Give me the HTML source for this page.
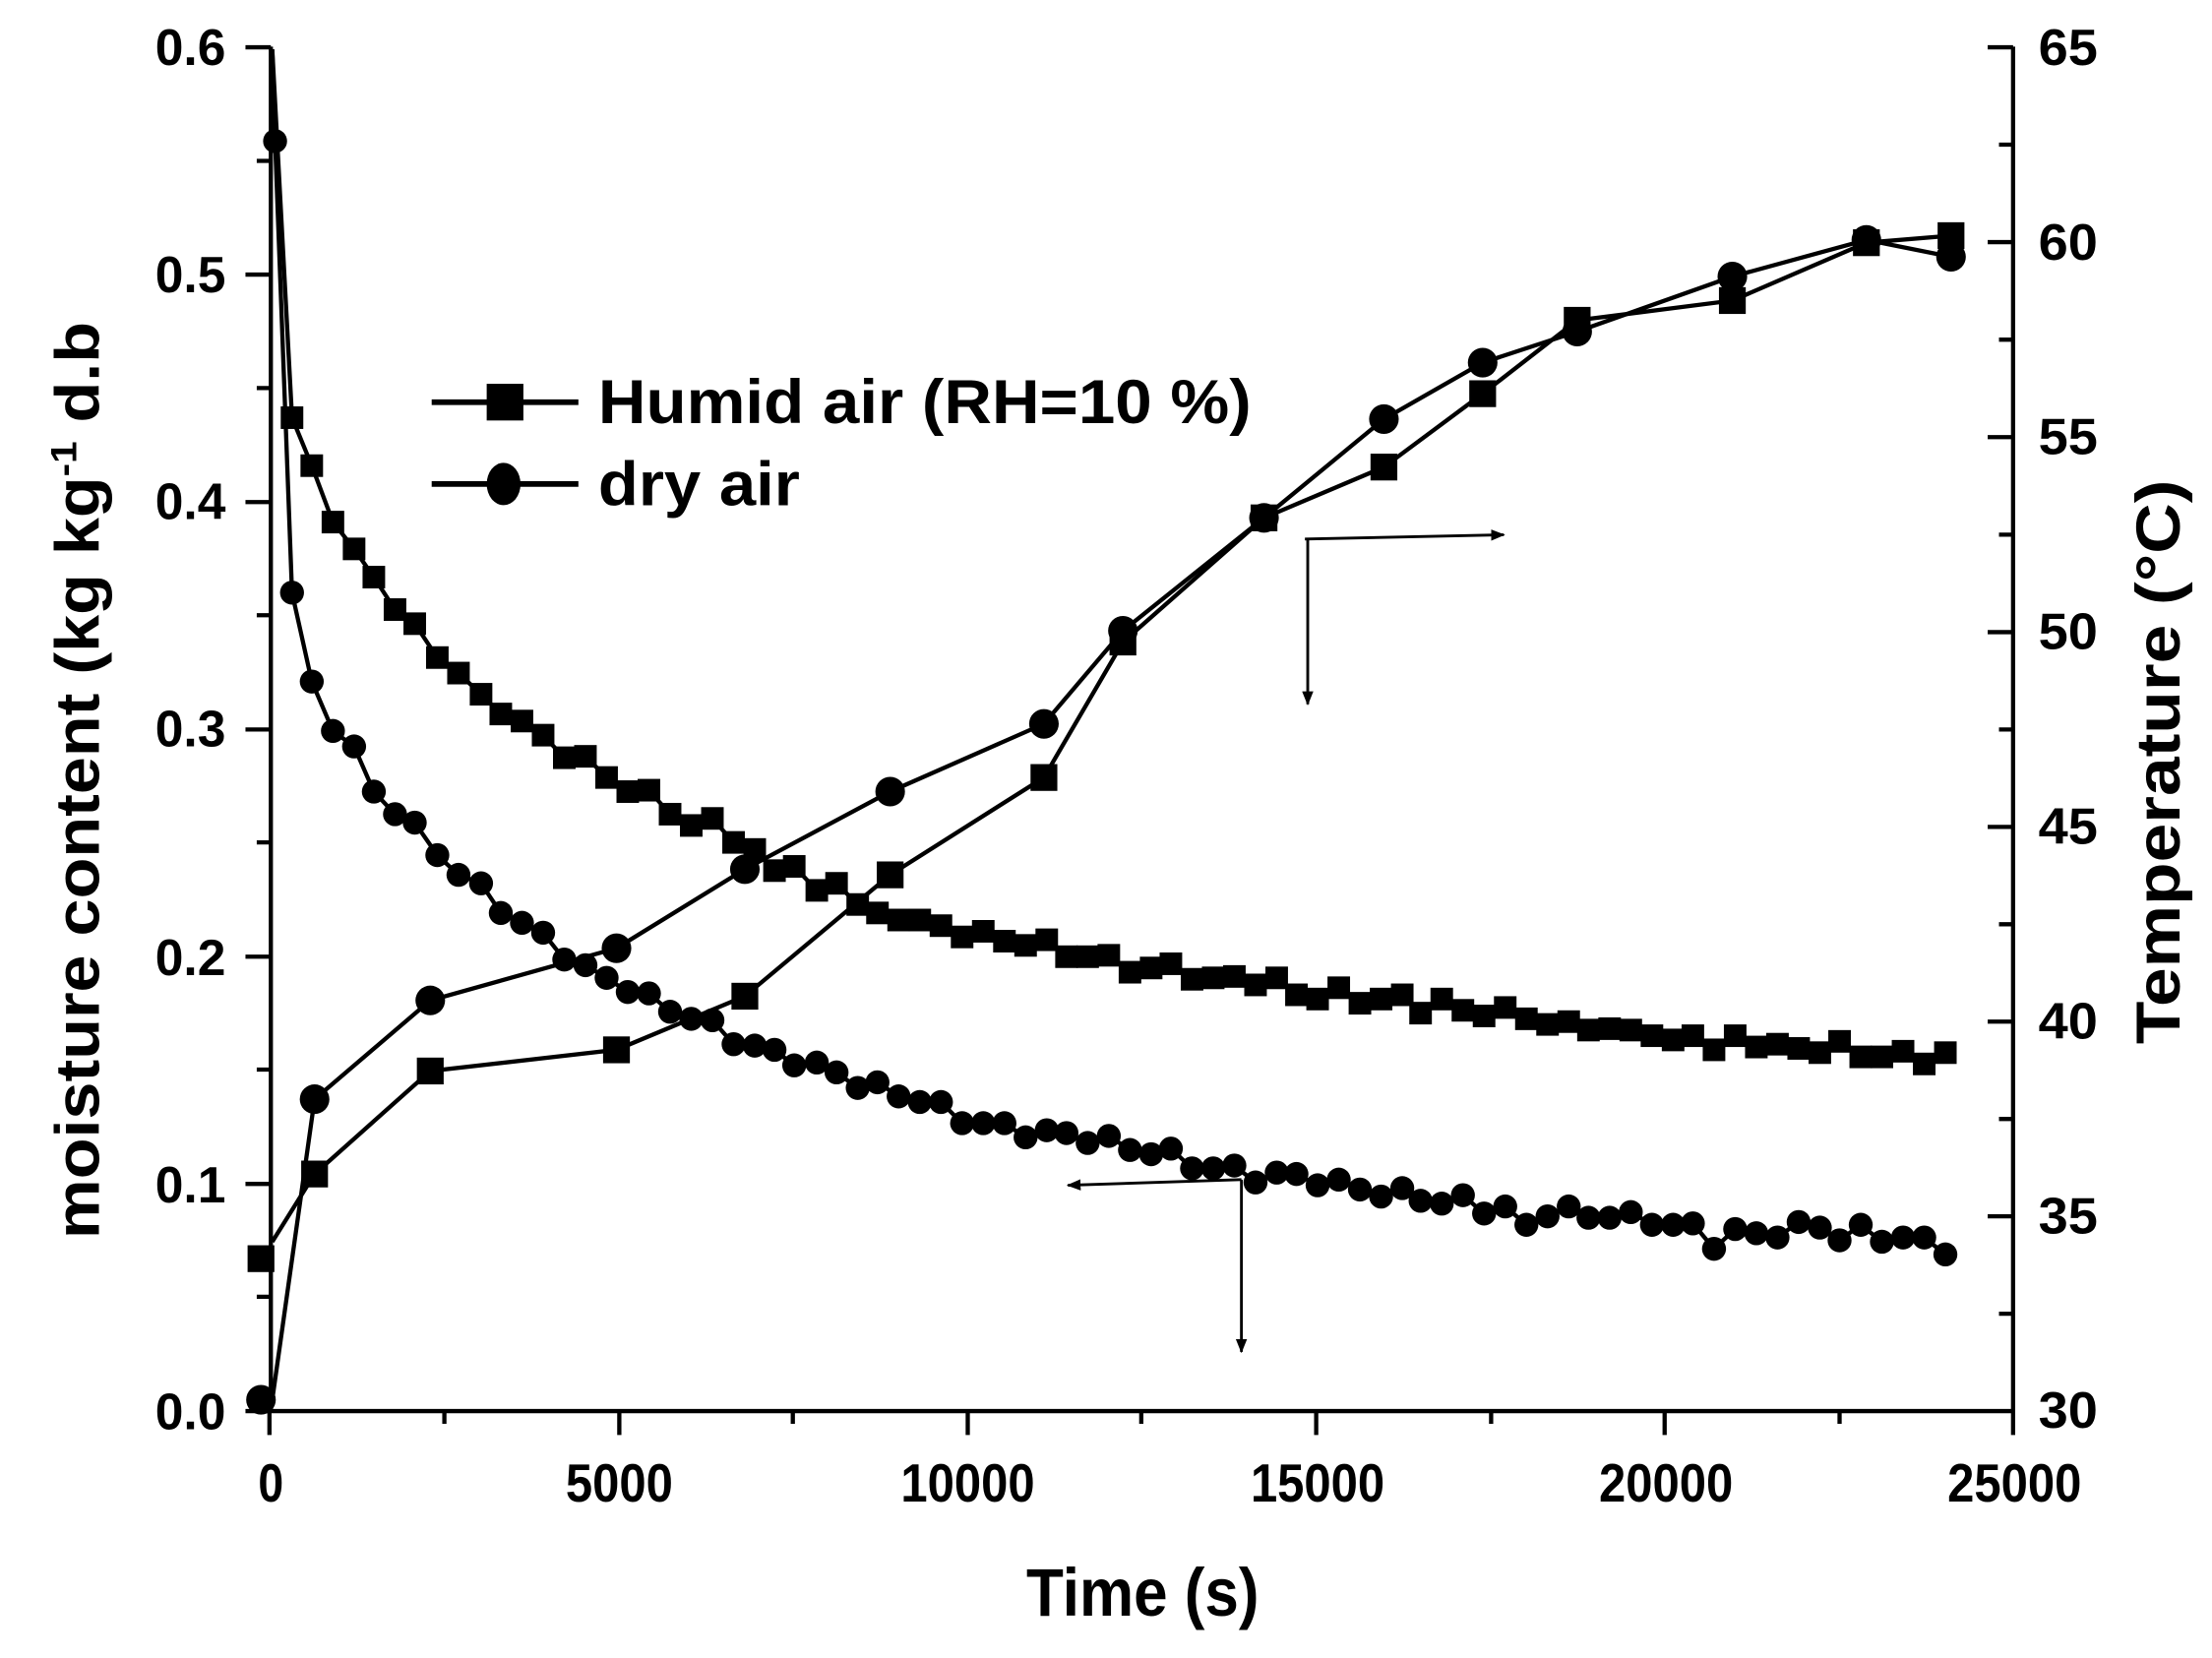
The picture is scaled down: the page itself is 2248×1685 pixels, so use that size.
<!DOCTYPE html>
<html><head><meta charset="utf-8"><style>
html,body{margin:0;padding:0;background:#fff;}
svg{display:block;}
text{font-family:"Liberation Sans",Arial,sans-serif;font-weight:bold;fill:#000;}
</style></head><body>
<svg width="2248" height="1685" viewBox="0 0 1568 1175" preserveAspectRatio="none" xmlns="http://www.w3.org/2000/svg">
<defs>
<marker id="ah" markerWidth="10" markerHeight="8" refX="9" refY="4" orient="auto" markerUnits="userSpaceOnUse"><path d="M0,0 L10,4 L0,8 z" fill="#000"/></marker>
<g id="sq"><rect x="-8" y="-8" width="16" height="16" fill="#000"/></g>
<g id="ci"><circle r="8.5" fill="#000"/></g>
<g id="sqL"><rect x="-9.5" y="-9.5" width="19" height="19" fill="#000"/></g>
<g id="ciL"><circle r="10.5" fill="#000"/></g>
</defs>
<g stroke="#000" stroke-width="3" fill="none">
<line x1="192" y1="33" x2="192" y2="1001"/>
<line x1="190" y1="1000" x2="1428" y2="1000"/>
<line x1="1427" y1="33" x2="1427" y2="1001"/>
<path d="M174,33.5H192 M174,194.6H192 M174,355.8H192 M174,517H192 M174,678H192 M174,839H192 M174,1000H192"/>
<path d="M182,114H192 M182,275H192 M182,436H192 M182,597H192 M182,758H192 M182,919H192"/>
<path d="M1409,33.5H1427 M1409,171.6H1427 M1409,309.8H1427 M1409,448H1427 M1409,586H1427 M1409,724H1427 M1409,862H1427"/>
<path d="M1417,102.5H1427 M1417,240.7H1427 M1417,378.9H1427 M1417,517H1427 M1417,655H1427 M1417,793H1427 M1417,931H1427"/>
<path d="M191,1000V1017 M439,1000V1017 M686,1000V1017 M933,1000V1017 M1180,1000V1017 M1427,1000V1017"/>
<path d="M315,1000V1009 M562,1000V1009 M809,1000V1009 M1057,1000V1009 M1304,1000V1009"/>
</g>
<g font-size="36" text-anchor="end">
<text x="160" y="46" textLength="50" lengthAdjust="spacingAndGlyphs">0.6</text>
<text x="160" y="207" textLength="50" lengthAdjust="spacingAndGlyphs">0.5</text>
<text x="160" y="368" textLength="50" lengthAdjust="spacingAndGlyphs">0.4</text>
<text x="160" y="529" textLength="50" lengthAdjust="spacingAndGlyphs">0.3</text>
<text x="160" y="691" textLength="50" lengthAdjust="spacingAndGlyphs">0.2</text>
<text x="160" y="852" textLength="50" lengthAdjust="spacingAndGlyphs">0.1</text>
<text x="160" y="1013" textLength="50" lengthAdjust="spacingAndGlyphs">0.0</text>
</g>
<g font-size="36">
<text x="1445" y="46" textLength="42" lengthAdjust="spacingAndGlyphs">65</text>
<text x="1445" y="184" textLength="42" lengthAdjust="spacingAndGlyphs">60</text>
<text x="1445" y="322" textLength="42" lengthAdjust="spacingAndGlyphs">55</text>
<text x="1445" y="460" textLength="42" lengthAdjust="spacingAndGlyphs">50</text>
<text x="1445" y="598" textLength="42" lengthAdjust="spacingAndGlyphs">45</text>
<text x="1445" y="736" textLength="42" lengthAdjust="spacingAndGlyphs">40</text>
<text x="1445" y="874" textLength="42" lengthAdjust="spacingAndGlyphs">35</text>
<text x="1445" y="1012" textLength="42" lengthAdjust="spacingAndGlyphs">30</text>
</g>
<g font-size="38" text-anchor="middle">
<text x="192" y="1064" textLength="18" lengthAdjust="spacingAndGlyphs">0</text>
<text x="439" y="1064" textLength="76" lengthAdjust="spacingAndGlyphs">5000</text>
<text x="686" y="1064" textLength="95" lengthAdjust="spacingAndGlyphs">10000</text>
<text x="934" y="1064" textLength="95" lengthAdjust="spacingAndGlyphs">15000</text>
<text x="1181" y="1064" textLength="95" lengthAdjust="spacingAndGlyphs">20000</text>
<text x="1428" y="1064" textLength="95" lengthAdjust="spacingAndGlyphs">25000</text>
</g>
<text x="810" y="1145" font-size="48" text-anchor="middle" textLength="165" lengthAdjust="spacingAndGlyphs">Time (s)</text>
<text transform="translate(70,553) rotate(-90)" font-size="44" text-anchor="middle" textLength="650" lengthAdjust="spacingAndGlyphs">moisture content (kg kg<tspan dy="-16" font-size="26">-1</tspan><tspan dy="16"> d.b</tspan></text>
<text transform="translate(1545,540) rotate(-90)" font-size="44" text-anchor="middle" textLength="400" lengthAdjust="spacingAndGlyphs">Temperature (°C)</text>

<g stroke="#000" stroke-width="4"><line x1="306" y1="285" x2="410" y2="285"/><line x1="306" y1="343" x2="410" y2="343"/></g>
<rect x="345" y="272" width="26" height="26" fill="#000"/>
<ellipse cx="357" cy="343" rx="12" ry="15" fill="#000"/>
<text x="424" y="300" font-size="44" textLength="463" lengthAdjust="spacingAndGlyphs">Humid air (RH=10 %)</text>
<text x="424" y="358" font-size="44" textLength="143" lengthAdjust="spacingAndGlyphs">dry air</text>

<g stroke="#000" stroke-width="3" fill="none">
<polyline points="193,880 223,832 305,759 437,744 528,706 631,620 740,551 796,455 896,367 981,331 1051,279 1118,227 1228,213 1323,172 1383,167"/>
<polyline points="193,992 223,779 305,709 437,672 528,616 631,561 740,513 796,447 896,367 981,297 1051,257 1118,235 1228,196 1323,170 1383,182"/>
</g>
<g>
<use href="#sqL" x="185" y="892"/><use href="#sqL" x="223" y="832"/><use href="#sqL" x="305" y="759"/><use href="#sqL" x="437" y="744"/><use href="#sqL" x="528" y="706"/><use href="#sqL" x="631" y="620"/><use href="#sqL" x="740" y="551"/><use href="#sqL" x="796" y="455"/><use href="#sqL" x="896" y="367"/><use href="#sqL" x="981" y="331"/><use href="#sqL" x="1051" y="279"/><use href="#sqL" x="1118" y="227"/><use href="#sqL" x="1228" y="213"/><use href="#sqL" x="1323" y="172"/><use href="#sqL" x="1383" y="167"/>
<use href="#ciL" x="185" y="992"/><use href="#ciL" x="223" y="779"/><use href="#ciL" x="305" y="709"/><use href="#ciL" x="437" y="672"/><use href="#ciL" x="528" y="616"/><use href="#ciL" x="631" y="561"/><use href="#ciL" x="740" y="513"/><use href="#ciL" x="796" y="447"/><use href="#ciL" x="896" y="367"/><use href="#ciL" x="981" y="297"/><use href="#ciL" x="1051" y="257"/><use href="#ciL" x="1118" y="235"/><use href="#ciL" x="1228" y="196"/><use href="#ciL" x="1323" y="170"/><use href="#ciL" x="1383" y="182"/>
</g>

<g stroke="#000" stroke-width="3" fill="none">
<polyline points="193,35 207,296 221,330 236,370 251,389 265,409 280,432 294,442 310,466 325,477 341,492 355,506 370,511 385,521 400,537 415,536 430,551 445,561 460,560 475,577 490,585 505,580 520,597 535,602 549,617 563,614 579,631 593,626 608,641 622,647 637,652 652,652 667,656 682,664 697,660 712,667 727,670 742,666 756,678 771,678 786,677 801,689 816,686 830,683 845,694 860,693 875,692 890,698 905,693 919,705 934,708 949,700 964,711 979,708 994,705 1007,718 1022,708 1037,716 1052,720 1067,714 1082,722 1097,726 1112,724 1126,730 1141,729 1156,730 1171,734 1186,737 1200,734 1215,744 1230,734 1245,742 1260,740 1275,743 1290,746 1304,738 1319,749 1334,749 1349,745 1364,754 1379,746"/>
<polyline points="193,35 195,100 207,420 221,483 236,518 251,529 265,561 280,577 294,583 310,606 325,620 341,626 355,647 370,654 385,661 400,680 415,684 430,693 445,703 460,704 475,717 490,722 505,723 520,740 535,741 549,744 563,755 579,753 593,760 608,771 622,767 637,777 652,781 667,781 682,796 697,796 712,796 727,806 742,801 756,803 771,810 786,805 801,815 816,818 830,814 845,828 860,828 875,826 890,838 905,831 919,832 934,840 949,836 964,843 979,848 994,842 1007,851 1022,853 1037,847 1052,860 1067,855 1082,868 1097,862 1112,855 1126,863 1141,863 1156,859 1171,868 1186,868 1200,867 1215,885 1230,871 1245,874 1260,877 1275,866 1290,870 1304,879 1319,868 1334,880 1349,877 1364,877 1379,889"/>
</g>
<g>
<use href="#sq" x="207" y="296"/><use href="#sq" x="221" y="330"/><use href="#sq" x="236" y="370"/><use href="#sq" x="251" y="389"/><use href="#sq" x="265" y="409"/><use href="#sq" x="280" y="432"/><use href="#sq" x="294" y="442"/><use href="#sq" x="310" y="466"/><use href="#sq" x="325" y="477"/><use href="#sq" x="341" y="492"/><use href="#sq" x="355" y="506"/><use href="#sq" x="370" y="511"/><use href="#sq" x="385" y="521"/><use href="#sq" x="400" y="537"/><use href="#sq" x="415" y="536"/><use href="#sq" x="430" y="551"/><use href="#sq" x="445" y="561"/><use href="#sq" x="460" y="560"/><use href="#sq" x="475" y="577"/><use href="#sq" x="490" y="585"/><use href="#sq" x="505" y="580"/><use href="#sq" x="520" y="597"/><use href="#sq" x="535" y="602"/><use href="#sq" x="549" y="617"/><use href="#sq" x="563" y="614"/><use href="#sq" x="579" y="631"/><use href="#sq" x="593" y="626"/><use href="#sq" x="608" y="641"/><use href="#sq" x="622" y="647"/><use href="#sq" x="637" y="652"/><use href="#sq" x="652" y="652"/><use href="#sq" x="667" y="656"/><use href="#sq" x="682" y="664"/><use href="#sq" x="697" y="660"/><use href="#sq" x="712" y="667"/><use href="#sq" x="727" y="670"/><use href="#sq" x="742" y="666"/><use href="#sq" x="756" y="678"/><use href="#sq" x="771" y="678"/><use href="#sq" x="786" y="677"/><use href="#sq" x="801" y="689"/><use href="#sq" x="816" y="686"/><use href="#sq" x="830" y="683"/><use href="#sq" x="845" y="694"/><use href="#sq" x="860" y="693"/><use href="#sq" x="875" y="692"/><use href="#sq" x="890" y="698"/><use href="#sq" x="905" y="693"/><use href="#sq" x="919" y="705"/><use href="#sq" x="934" y="708"/><use href="#sq" x="949" y="700"/><use href="#sq" x="964" y="711"/><use href="#sq" x="979" y="708"/><use href="#sq" x="994" y="705"/><use href="#sq" x="1007" y="718"/><use href="#sq" x="1022" y="708"/><use href="#sq" x="1037" y="716"/><use href="#sq" x="1052" y="720"/><use href="#sq" x="1067" y="714"/><use href="#sq" x="1082" y="722"/><use href="#sq" x="1097" y="726"/><use href="#sq" x="1112" y="724"/><use href="#sq" x="1126" y="730"/><use href="#sq" x="1141" y="729"/><use href="#sq" x="1156" y="730"/><use href="#sq" x="1171" y="734"/><use href="#sq" x="1186" y="737"/><use href="#sq" x="1200" y="734"/><use href="#sq" x="1215" y="744"/><use href="#sq" x="1230" y="734"/><use href="#sq" x="1245" y="742"/><use href="#sq" x="1260" y="740"/><use href="#sq" x="1275" y="743"/><use href="#sq" x="1290" y="746"/><use href="#sq" x="1304" y="738"/><use href="#sq" x="1319" y="749"/><use href="#sq" x="1334" y="749"/><use href="#sq" x="1349" y="745"/><use href="#sq" x="1364" y="754"/><use href="#sq" x="1379" y="746"/>
<use href="#ci" x="195" y="100"/><use href="#ci" x="207" y="420"/><use href="#ci" x="221" y="483"/><use href="#ci" x="236" y="518"/><use href="#ci" x="251" y="529"/><use href="#ci" x="265" y="561"/><use href="#ci" x="280" y="577"/><use href="#ci" x="294" y="583"/><use href="#ci" x="310" y="606"/><use href="#ci" x="325" y="620"/><use href="#ci" x="341" y="626"/><use href="#ci" x="355" y="647"/><use href="#ci" x="370" y="654"/><use href="#ci" x="385" y="661"/><use href="#ci" x="400" y="680"/><use href="#ci" x="415" y="684"/><use href="#ci" x="430" y="693"/><use href="#ci" x="445" y="703"/><use href="#ci" x="460" y="704"/><use href="#ci" x="475" y="717"/><use href="#ci" x="490" y="722"/><use href="#ci" x="505" y="723"/><use href="#ci" x="520" y="740"/><use href="#ci" x="535" y="741"/><use href="#ci" x="549" y="744"/><use href="#ci" x="563" y="755"/><use href="#ci" x="579" y="753"/><use href="#ci" x="593" y="760"/><use href="#ci" x="608" y="771"/><use href="#ci" x="622" y="767"/><use href="#ci" x="637" y="777"/><use href="#ci" x="652" y="781"/><use href="#ci" x="667" y="781"/><use href="#ci" x="682" y="796"/><use href="#ci" x="697" y="796"/><use href="#ci" x="712" y="796"/><use href="#ci" x="727" y="806"/><use href="#ci" x="742" y="801"/><use href="#ci" x="756" y="803"/><use href="#ci" x="771" y="810"/><use href="#ci" x="786" y="805"/><use href="#ci" x="801" y="815"/><use href="#ci" x="816" y="818"/><use href="#ci" x="830" y="814"/><use href="#ci" x="845" y="828"/><use href="#ci" x="860" y="828"/><use href="#ci" x="875" y="826"/><use href="#ci" x="890" y="838"/><use href="#ci" x="905" y="831"/><use href="#ci" x="919" y="832"/><use href="#ci" x="934" y="840"/><use href="#ci" x="949" y="836"/><use href="#ci" x="964" y="843"/><use href="#ci" x="979" y="848"/><use href="#ci" x="994" y="842"/><use href="#ci" x="1007" y="851"/><use href="#ci" x="1022" y="853"/><use href="#ci" x="1037" y="847"/><use href="#ci" x="1052" y="860"/><use href="#ci" x="1067" y="855"/><use href="#ci" x="1082" y="868"/><use href="#ci" x="1097" y="862"/><use href="#ci" x="1112" y="855"/><use href="#ci" x="1126" y="863"/><use href="#ci" x="1141" y="863"/><use href="#ci" x="1156" y="859"/><use href="#ci" x="1171" y="868"/><use href="#ci" x="1186" y="868"/><use href="#ci" x="1200" y="867"/><use href="#ci" x="1215" y="885"/><use href="#ci" x="1230" y="871"/><use href="#ci" x="1245" y="874"/><use href="#ci" x="1260" y="877"/><use href="#ci" x="1275" y="866"/><use href="#ci" x="1290" y="870"/><use href="#ci" x="1304" y="879"/><use href="#ci" x="1319" y="868"/><use href="#ci" x="1334" y="880"/><use href="#ci" x="1349" y="877"/><use href="#ci" x="1364" y="877"/><use href="#ci" x="1379" y="889"/>
</g>

<g stroke="#000" stroke-width="2" fill="none">
<line x1="925" y1="382" x2="1066" y2="379" marker-end="url(#ah)"/>
<line x1="927" y1="382" x2="927" y2="499" marker-end="url(#ah)"/>
<line x1="880" y1="836" x2="757" y2="840" marker-end="url(#ah)"/>
<line x1="880" y1="836" x2="880" y2="958" marker-end="url(#ah)"/>
</g>
</svg>
</body></html>
